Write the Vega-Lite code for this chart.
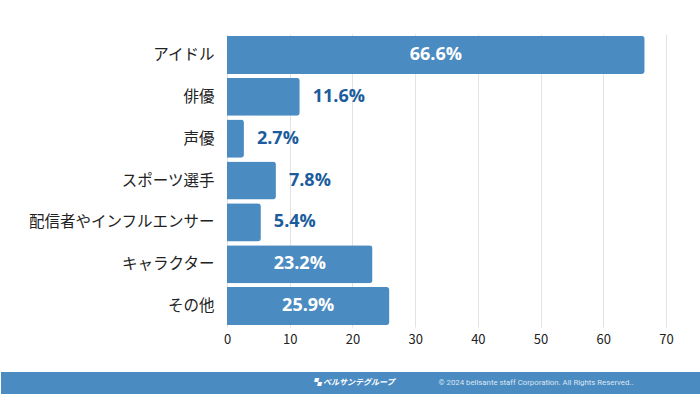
{
  "$schema": "https://vega.github.io/schema/vega-lite/v6.json",
  "padding": {"top": 34, "left": 0, "right": 0, "bottom": 0},
  "background": "white",
  "spacing": 26,
  "config": {"view": {"stroke": null}, "font": "Noto Sans CJK JP"},
  "vconcat": [
    {
      "width": 439,
      "height": 293,
      "data": {"values": [
        {"category": "アイドル", "value": 66.6},
        {"category": "俳優", "value": 11.6},
        {"category": "声優", "value": 2.7},
        {"category": "スポーツ選手", "value": 7.8},
        {"category": "配信者やインフルエンサー", "value": 5.4},
        {"category": "キャラクター", "value": 23.2},
        {"category": "その他", "value": 25.9}
      ]},
      "transform": [
        {"calculate": "format(datum.value, '.1f') + '%'", "as": "label"},
        {"calculate": "datum.value / 2", "as": "mid"}
      ],
      "encoding": {
        "y": {"field": "category", "type": "nominal", "sort": null,
          "scale": {"paddingInner": 0.09, "paddingOuter": 0.045},
          "axis": {"title": "　", "titleColor": "white", "titleFontSize": 10, "titlePadding": 3, "minExtent": 212, "maxExtent": 212, "domain": false, "ticks": false, "labelFontSize": 15.5, "labelColor": "#222222", "labelPadding": 13, "labelLimit": 300}},
        "x": {"field": "value", "type": "quantitative",
          "scale": {"domain": [0, 70], "nice": false},
          "axis": {"title": null, "values": [0, 10, 20, 30, 40, 50, 60, 70], "domain": false, "ticks": false, "grid": true, "gridColor": "#e3e3e3", "labelFontSize": 13, "labelColor": "#222222", "labelPadding": 6, "labelFlush": false}}
      },
      "layer": [
        {"mark": {"type": "bar", "color": "#4a8bc2", "cornerRadiusEnd": 3}},
        {"transform": [{"filter": "datum.value < 20"}],
          "mark": {"type": "text", "align": "left", "baseline": "middle", "dx": 13, "fontSize": 18, "fontWeight": "bold", "font": "Open Sans", "color": "#1b5c9c"},
          "encoding": {"text": {"field": "label"}}},
        {"transform": [{"filter": "datum.value >= 20"}],
          "mark": {"type": "text", "align": "center", "baseline": "middle", "fontSize": 18, "fontWeight": "bold", "font": "Open Sans", "color": "white"},
          "encoding": {"x": {"field": "mid", "type": "quantitative"}, "text": {"field": "label"}}}
      ]
    },
    {
      "width": 474,
      "height": 22,
      "data": {"values": [
        {"kind": "band", "start": 0, "end": 1},
        {"kind": "logo", "start": 0.446, "text": "▚ ベルサンテグループ"},
        {"kind": "copy", "start": 0.625, "text": "© 2024 bellsante staff Corporation. All Rights Reserved.."}
      ]},
      "encoding": {
        "x": {"field": "start", "type": "quantitative", "scale": {"domain": [0.32286, 1], "nice": false, "zero": false}, "axis": null}
      },
      "layer": [
        {"transform": [{"filter": "datum.kind === 'band'"}],
          "mark": {"type": "rect", "color": "#4a8bc2", "clip": false},
          "encoding": {"x2": {"field": "end"}}},
        {"transform": [{"filter": "datum.kind === 'logo'"}],
          "mark": {"type": "text", "align": "left", "baseline": "middle", "fontSize": 8, "fontWeight": "bold", "fontStyle": "italic", "color": "white"},
          "encoding": {"text": {"field": "text"}}},
        {"transform": [{"filter": "datum.kind === 'copy'"}],
          "mark": {"type": "text", "align": "left", "baseline": "middle", "fontSize": 7.8, "font": "Roboto", "color": "#dbe7f2"},
          "encoding": {"text": {"field": "text"}}}
      ]
    }
  ]
}
